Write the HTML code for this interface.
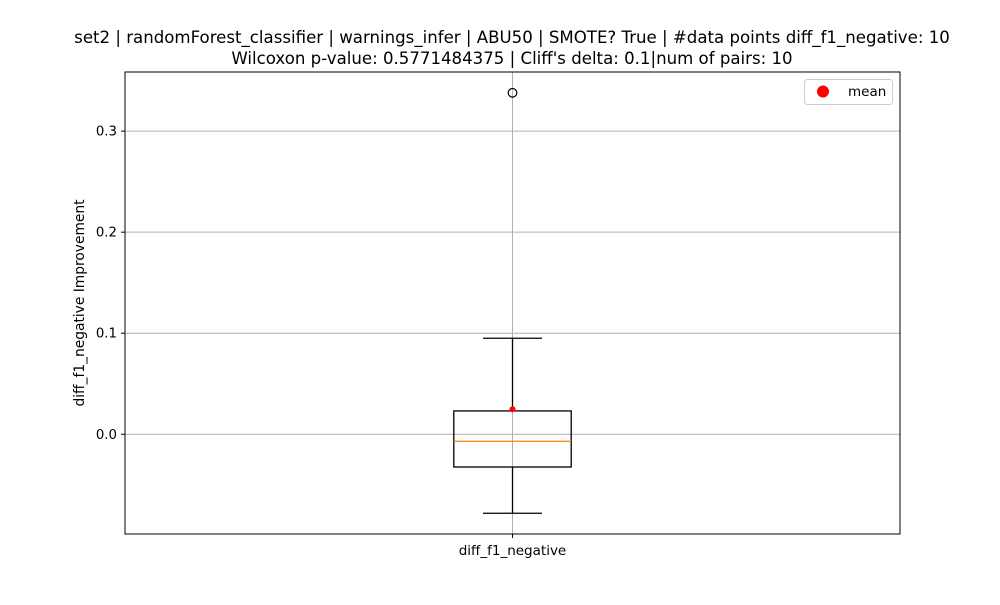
<!DOCTYPE html>
<html><head><meta charset="utf-8"><style>
html,body{margin:0;padding:0;background:#fff;}
svg text{font-family:"DejaVu Sans","Liberation Sans",sans-serif;}
</style></head><body>
<svg id="chart" width="1000" height="600" viewBox="0 0 1000 600" xmlns="http://www.w3.org/2000/svg">
<rect width="1000" height="600" fill="#fff"/>
<g id="grid"></g>
<g id="plot"></g>
<rect x="125" y="72" width="775" height="462" fill="none" stroke="#000" stroke-width="1"/>
<g id="ticks"></g>
<text x="512" y="43" font-size="16.6" text-anchor="middle">set2 | randomForest_classifier | warnings_infer | ABU50 | SMOTE? True | #data points diff_f1_negative: 10</text>
<text x="512" y="64" font-size="16.6" text-anchor="middle">Wilcoxon p-value: 0.5771484375 | Cliff's delta: 0.1|num of pairs: 10</text>
<text transform="translate(84,303) rotate(-90)" font-size="13.8" text-anchor="middle">diff_f1_negative Improvement</text>
<g>
<rect x="804.5" y="79.5" width="88" height="25" rx="3" fill="#fff" stroke="#ccc"/>
<circle cx="823" cy="91.5" r="6" fill="red"/>
<text x="848" y="96" font-size="13.5">mean</text>
</g>
</svg>
<script>
const categories = ["diff_f1_negative"];
const whiskerLow = [-0.0782];
const q1 = [-0.0324];
const median = [-0.0069];
const q3 = [0.0231];
const whiskerHigh = [0.0950];
const means = [0.0248];
const outliers = [[0.3379]];
const yTicks = [0.0, 0.1, 0.2, 0.3];
const yTickLabels = ["0.0", "0.1", "0.2", "0.3"];

const NS = "http://www.w3.org/2000/svg";
const L = 125, R = 900, T = 72, B = 534, yMin = -0.0987, yMax = 0.3585;
const y = v => B - (v - yMin) / (yMax - yMin) * (B - T);
const x = i => L + (i + 0.5) * (R - L) / categories.length;
function mk(tag, attrs, parent) {
  const e = document.createElementNS(NS, tag);
  for (const k in attrs) e.setAttribute(k, attrs[k]);
  document.getElementById(parent).appendChild(e);
  return e;
}
yTicks.forEach((t, i) => {
  const g = mk("line", {x1: L, x2: R, y1: y(t), y2: y(t), stroke: "#b0b0b0", "stroke-width": 1}, "grid");
  
  
  const tk = mk("line", {x1: L - 4, x2: L, y1: y(t), y2: y(t), stroke: "#000"}, "ticks");
  
  
  const lb = mk("text", {x: L - 8, y: y(t) + 4.5, "font-size": 13.3, "text-anchor": "end"}, "ticks");
  lb.textContent = yTickLabels[i];
  
  
});
categories.forEach((c, i) => {
  const cx = x(i), hw = 58.7, cw = 29.5;
  const vg = mk("line", {x1: cx, x2: cx, y1: T, y2: B, stroke: "#b0b0b0"}, "grid");
  
  
  const tk = mk("line", {x1: cx, x2: cx, y1: B, y2: B + 4, stroke: "#000"}, "ticks");
  
  
  const lb = mk("text", {x: cx, y: B + 21, "font-size": 13.5, "text-anchor": "middle"}, "ticks");
  lb.textContent = c;
  
  
  const w1 = mk("line", {x1: cx, x2: cx, y1: y(whiskerLow[i]), y2: y(q1[i]), stroke: "#000", "stroke-width": 1.3}, "plot");
  
  
  const w2 = mk("line", {x1: cx, x2: cx, y1: y(q3[i]), y2: y(whiskerHigh[i]), stroke: "#000", "stroke-width": 1.3}, "plot");
  
  
  [whiskerLow[i], whiskerHigh[i]].forEach(v => {
    const cap = mk("line", {x1: cx - cw, x2: cx + cw, y1: y(v), y2: y(v), stroke: "#000", "stroke-width": 1.3}, "plot");
    
    
  });
  const box = mk("rect", {x: cx - hw, y: y(q3[i]), width: 2 * hw, height: y(q1[i]) - y(q3[i]), fill: "none", stroke: "#000", "stroke-width": 1.3}, "plot");
  
  
  const md = mk("line", {x1: cx - hw, x2: cx + hw, y1: y(median[i]), y2: y(median[i]), stroke: "#ff7f0e", "stroke-width": 1.3}, "plot");
  
  
  outliers[i].forEach(v => {
    const o = mk("circle", {cx: cx, cy: y(v), r: 4.3, fill: "none", stroke: "#000", "stroke-width": 1.2}, "plot");
    
    
  });
  const m = mk("circle", {cx: cx, cy: y(means[i]), r: 3, fill: "red"}, "plot");
  
  
});
</script>
</body></html>
